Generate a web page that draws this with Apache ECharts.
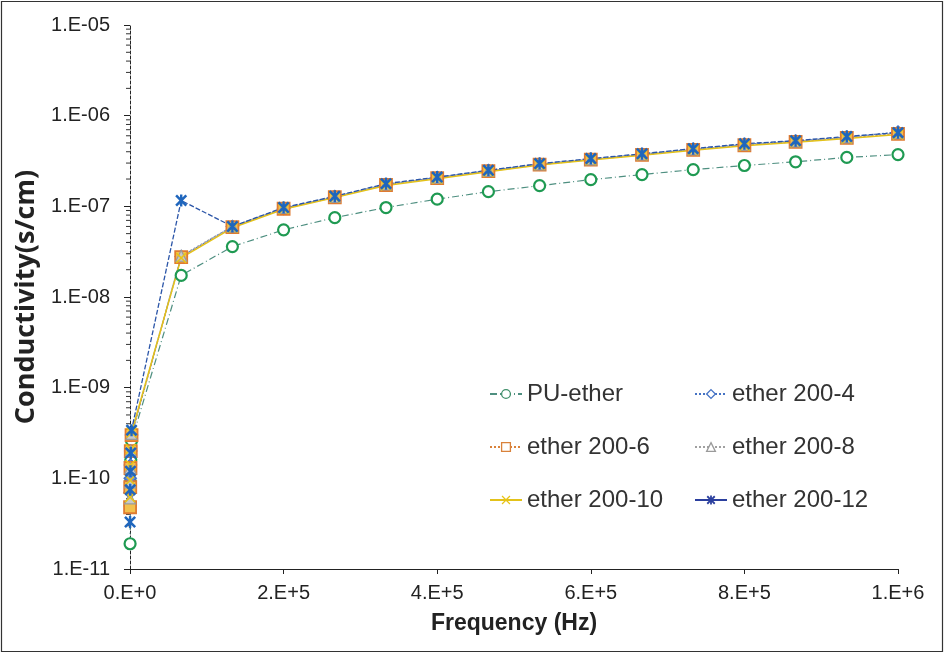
<!DOCTYPE html>
<html>
<head>
<meta charset="utf-8">
<script src="https://cdn.jsdelivr.net/npm/echarts@6/dist/echarts.min.js"></script>
<style>html,body{margin:0;padding:0;background:#fff}#c{width:945px;height:654px}</style>
</head>
<body>
<div id="c"></div>
<script>
// Frequencies (Hz): a few low-frequency points that collapse near 0, then the linear sweep
const freqs = [100, 300, 600, 1000, 2000,
  66667, 133333, 200000, 266667, 333333, 400000, 466667, 533333,
  600000, 666667, 733333, 800000, 866667, 933333, 1000000];

const seriesNames = ['PU-ether', 'ether 200-4', 'ether 200-6', 'ether 200-8', 'ether 200-10', 'ether 200-12'];

const puEther = [1.9e-11, 5e-11, 9e-11, 1.6e-10, 2.6e-10,
  1.73e-8, 3.6e-8, 5.5e-8, 7.5e-8, 9.7e-8, 1.2e-7, 1.45e-7, 1.69e-7, 1.97e-7, 2.24e-7, 2.54e-7, 2.82e-7, 3.1e-7, 3.46e-7, 3.72e-7];
const ether200_4 = [7e-11, 1.0e-10, 1.4e-10, 2.0e-10, 3.0e-10,
  2.8e-8, 6.0e-8, 9.5e-8, 1.28e-7, 1.75e-7, 2.08e-7, 2.48e-7, 2.92e-7, 3.32e-7, 3.76e-7, 4.28e-7, 4.82e-7, 5.25e-7, 5.8e-7, 6.6e-7];
const ether200_6 = [4.8e-11, 8e-11, 1.3e-10, 2.0e-10, 3.0e-10,
  2.75e-8, 5.9e-8, 9.4e-8, 1.26e-7, 1.72e-7, 2.05e-7, 2.44e-7, 2.88e-7, 3.28e-7, 3.7e-7, 4.2e-7, 4.72e-7, 5.15e-7, 5.7e-7, 6.3e-7];
const ether200_8 = [6e-11, 9e-11, 1.3e-10, 2.0e-10, 3.1e-10,
  2.85e-8, 6.0e-8, 9.6e-8, 1.27e-7, 1.74e-7, 2.07e-7, 2.46e-7, 2.9e-7, 3.3e-7, 3.73e-7, 4.25e-7, 4.78e-7, 5.2e-7, 5.75e-7, 6.4e-7];
const ether200_10 = [6.2e-11, 9.5e-11, 1.4e-10, 2.1e-10, 3.2e-10,
  2.7e-8, 5.8e-8, 9.3e-8, 1.25e-7, 1.7e-7, 2.02e-7, 2.4e-7, 2.85e-7, 3.25e-7, 3.65e-7, 4.15e-7, 4.65e-7, 5.1e-7, 5.6e-7, 6.2e-7];
const ether200_12 = [3.3e-11, 7.5e-11, 1.2e-10, 1.9e-10, 3.4e-10,
  1.16e-7, 6.0e-8, 9.7e-8, 1.29e-7, 1.78e-7, 2.1e-7, 2.5e-7, 2.96e-7, 3.36e-7, 3.8e-7, 4.33e-7, 4.9e-7, 5.3e-7, 5.9e-7, 6.5e-7];

const xTickLabels = ['0.E+0', '2.E+5', '4.E+5', '6.E+5', '8.E+5', '1.E+6'];
const yTickLabels = ['1.E-11', '1.E-10', '1.E-09', '1.E-08', '1.E-07', '1.E-06', '1.E-05'];

const pairs = vals => freqs.map((f, i) => [f, vals[i]]);

// minor log ticks 2..9 per decade
const minorVals = [];
for (let e = -11; e < -5; e++) for (let m = 2; m <= 9; m++) minorVals.push([0, m * Math.pow(10, e)]);

const xPath = 'path://M0,2 L2,0 L10,8 L18,0 L20,2 L12,10 L20,18 L18,20 L10,12 L2,20 L0,18 L8,10 Z';
const starPath = 'path://M0,3 L3,0 L10,7 L17,0 L20,3 L13,10 L20,17 L17,20 L10,13 L3,20 L0,17 L7,10 Z M8,0 L12,0 L12,20 L8,20 Z';

const chart = echarts.init(document.getElementById('c'));
const font = 'Liberation Sans, Arial, sans-serif';

function lineSeries(name, vals, opts) {
  return Object.assign({
    name: name, type: 'line', data: pairs(vals), symbolSize: 10,
    showSymbol: true, animation: false, clip: false
  }, opts);
}

const legendCommon = {
  orient: 'vertical', top: 377, itemGap: 29, itemWidth: 32, itemHeight: 11,
  textStyle: { fontFamily: font, fontSize: 24, color: '#333' }
};
const hollow = c => ({ color: '#fff', borderColor: c, borderWidth: 1.3 });

chart.setOption({
  animation: false,
  backgroundColor: '#fff',
  grid: { left: 130, right: 47, top: 25, bottom: 85 },
  xAxis: {
    type: 'value', min: 0, max: 1000000, interval: 200000,
    name: 'Frequency (Hz)', nameLocation: 'middle', nameGap: 43,
    nameTextStyle: { fontFamily: 'Liberation Sans Narrow, Liberation Sans, Arial', fontWeight: 'bold', fontSize: 23, color: '#222' },
    axisLine: { show: true, lineStyle: { color: '#222', width: 1 } },
    axisTick: { show: true, length: 5, lineStyle: { color: '#222' } },
    splitLine: { show: false },
    axisLabel: {
      fontFamily: font, fontSize: 20, color: '#222', margin: 14,
      formatter: v => xTickLabels[Math.round(v / 200000)]
    }
  },
  yAxis: {
    type: 'log', logBase: 10, min: 1e-11, max: 1e-5,
    name: 'Conductivity(s/cm)', nameLocation: 'middle', nameGap: 86,
    nameTextStyle: { fontFamily: 'Open Sans, Liberation Sans', fontWeight: 'bold', fontSize: 27, color: '#222' },
    axisLine: { show: true, lineStyle: { color: '#222', width: 1, type: [3, 2] } },
    axisTick: { show: true, length: 6, lineStyle: { color: '#222' } },
    splitLine: { show: false },
    axisLabel: {
      fontFamily: font, fontSize: 20, color: '#222', margin: 20,
      formatter: v => yTickLabels[Math.round(Math.log10(v)) + 11]
    }
  },
  legend: [
    Object.assign({ data: [
      { name: 'PU-ether', itemStyle: hollow('#3f8f6a') },
      { name: 'ether 200-6', itemStyle: hollow('#d9823b') },
      { name: 'ether 200-10' }
    ], left: 484 }, legendCommon),
    Object.assign({ data: [
      { name: 'ether 200-4', itemStyle: hollow('#4472c4') },
      { name: 'ether 200-8', itemStyle: hollow('#9a9a9a') },
      { name: 'ether 200-12', lineStyle: { type: 'solid', color: '#2b3f9e' }, itemStyle: { color: '#2b3f9e' } }
    ], left: 689 }, legendCommon)
  ],
  graphic: [{
    type: 'rect', shape: { x: 1.5, y: 1.5, width: 941, height: 650 },
    style: { fill: 'none', stroke: '#333', lineWidth: 1.2 }, silent: true, z: 100
  }],
  series: [
    {
      type: 'custom', name: 'minorTicks', data: minorVals, silent: true, clip: false, z: 1,
      renderItem: function (params, api) {
        const p = api.coord([api.value(0), api.value(1)]);
        return { type: 'line', shape: { x1: p[0] - 4, y1: p[1], x2: p[0] + 1, y2: p[1] },
          style: { stroke: '#333', lineWidth: 1 } };
      }
    },
    lineSeries(seriesNames[0], puEther, {
      symbol: 'circle', symbolSize: 11,
      lineStyle: { color: '#4e8f80', width: 1.2, type: [7, 3, 1, 3] },
      itemStyle: { color: '#fff', borderColor: '#1f9a52', borderWidth: 2.2 }
    }),
    lineSeries(seriesNames[1], ether200_4, {
      symbol: 'diamond', symbolSize: 12,
      lineStyle: { color: '#4472c4', width: 1.2, type: [2, 2] },
      itemStyle: { color: '#6a8fd4', borderColor: '#4472c4', borderWidth: 1.5 }
    }),
    lineSeries(seriesNames[2], ether200_6, {
      symbol: 'rect', symbolSize: 12,
      lineStyle: { color: '#d9823b', width: 1.2, type: [2, 2] },
      itemStyle: { color: '#f2c14e', borderColor: '#e07b30', borderWidth: 1.8 }
    }),
    lineSeries(seriesNames[3], ether200_8, {
      symbol: 'triangle', symbolSize: 11,
      lineStyle: { color: '#a0a0a0', width: 1.2, type: [2, 2] },
      itemStyle: { color: '#c8c8c8', borderColor: '#9a9a9a', borderWidth: 1.2 }
    }),
    lineSeries(seriesNames[4], ether200_10, {
      symbol: xPath, symbolSize: 11,
      lineStyle: { color: '#e3c21a', width: 1.5 },
      itemStyle: { color: '#e8c417' }
    }),
    lineSeries(seriesNames[5], ether200_12, {
      symbol: starPath, symbolSize: 12,
      lineStyle: { color: '#2b55a8', width: 1.3, type: [5, 2] },
      itemStyle: { color: '#1f66bd' }
    })
  ]
});
</script>
</body>
</html>
